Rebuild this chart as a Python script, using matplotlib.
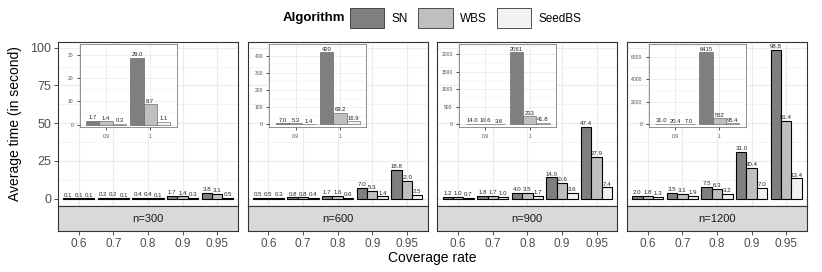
import numpy as np
import matplotlib
matplotlib.use('Agg')
import matplotlib.pyplot as plt
from matplotlib.patches import Patch

plt.rcParams['font.family'] = ['Liberation Sans', 'DejaVu Sans']

# data
coverage = ['0.6', '0.7', '0.8', '0.9', '0.95']
sizes = ['n=300', 'n=600', 'n=900', 'n=1200']
algorithms = ['SN', 'WBS', 'SeedBS']
colors = ['#7f7f7f', '#bfbfbf', '#f2f2f2']

sn_time = [[0.1, 0.2, 0.4, 1.7, 3.8],
           [0.5, 0.8, 1.7, 7.0, 18.8],
           [1.2, 1.8, 4.0, 14.0, 47.4],
           [2.0, 3.5, 7.5, 31.0, 98.8]]
wbs_time = [[0.1, 0.2, 0.4, 1.4, 3.1],
            [0.5, 0.8, 1.6, 5.3, 12.0],
            [1.0, 1.7, 3.5, 10.6, 27.9],
            [1.8, 3.1, 6.3, 20.4, 51.4]]
seedbs_time = [[0.1, 0.1, 0.1, 0.3, 0.5],
               [0.3, 0.4, 0.6, 1.4, 2.5],
               [0.7, 1.0, 1.7, 3.6, 7.4],
               [1.3, 1.9, 3.2, 7.0, 13.4]]

inset_coverage = ['0.9', '1']
inset_sn = [[1.7, 29.0], [7.0, 420], [14.0, 2061], [31.0, 6415]]
inset_wbs = [[1.4, 8.7], [5.3, 69.2], [10.6, 233], [20.4, 552]]
inset_seedbs = [[0.3, 1.1], [1.4, 16.9], [3.6, 41.8], [7.0, 95.4]]
inset_ticks = [[0, 10, 20, 30], [0, 100, 200, 300, 400],
               [0, 500, 1000, 1500, 2000], [0, 2000, 4000, 6000]]


def fmt(v):
    return '%d' % round(v) if v >= 100 else '%.1f' % v


W, H = 822, 272
fig = plt.figure(figsize=(W / 100, H / 100), dpi=100)

panel_w, gap = 180, 9.67
offsets = [-0.3, 0.0, 0.3]

for i, size in enumerate(sizes):
    left = 58 + i * (panel_w + gap)
    ax = fig.add_axes([left / W, (H - 206) / H, panel_w / W, 164 / H])
    strip = fig.add_axes([left / W, (H - 231) / H, panel_w / W, 25 / H])

    x = np.arange(1, len(coverage) + 1)
    series = [sn_time[i], wbs_time[i], seedbs_time[i]]
    for k, vals in enumerate(series):
        ax.bar(x + offsets[k], vals, 0.3, color=colors[k],
               edgecolor='black', linewidth=0.8, zorder=2)
        for xx, v in zip(x + offsets[k], vals):
            ax.annotate(fmt(v), (xx, v), xytext=(0, 0.6), textcoords='offset points',
                        ha='center', va='bottom', fontsize=4.4, color='#222222')

    ax.set_xlim(0.4, 5.6)
    ax.set_ylim(-4.9, 103.8)
    ax.set_xticks(x)
    ax.set_yticks([0, 25, 50, 75, 100])
    ax.set_yticks([12.5, 37.5, 62.5, 87.5], minor=True)
    ax.grid(which='major', color='#ebebeb', linewidth=0.8)
    ax.grid(which='minor', axis='y', color='#ebebeb', linewidth=0.4)
    ax.set_axisbelow(True)
    ax.tick_params(axis='x', bottom=False, labelbottom=False)
    ax.tick_params(axis='y', which='minor', left=False)
    if i == 0:
        ax.tick_params(axis='y', labelsize=9, colors='#333333', labelcolor='#4d4d4d',
                       length=3, width=0.6, pad=2)
    else:
        ax.tick_params(axis='y', left=False, labelleft=False)
    for sp in ax.spines.values():
        sp.set_color('#333333')
        sp.set_linewidth(0.8)

    # strip below panel, carrying the x axis
    strip.set_facecolor('#d9d9d9')
    strip.set_xlim(0.4, 5.6)
    strip.set_ylim(0, 1)
    strip.set_yticks([])
    strip.set_xticks(x)
    strip.set_xticklabels(coverage)
    strip.tick_params(axis='x', labelsize=8.5, colors='#333333', labelcolor='#4d4d4d',
                      length=3, width=0.6, pad=2)
    strip.text(3, 0.5, size, ha='center', va='center', fontsize=8, color='#1a1a1a')
    for sp in strip.spines.values():
        sp.set_color('#333333')
        sp.set_linewidth(0.8)

    # inset zooming on 0.9 and 1
    ins = ax.inset_axes([0.12, 0.48, 0.54, 0.51])
    xi = np.arange(1, len(inset_coverage) + 1)
    iseries = [inset_sn[i], inset_wbs[i], inset_seedbs[i]]
    top = max(inset_sn[i])
    for k, vals in enumerate(iseries):
        ins.bar(xi + offsets[k], vals, 0.3, color=colors[k],
                edgecolor='#555555', linewidth=0.4, zorder=2)
        for xx, v in zip(xi + offsets[k], vals):
            ins.annotate(fmt(v), (xx, v), xytext=(0, 0.4), textcoords='offset points',
                         ha='center', va='bottom', fontsize=4.2, color='#222222')
    ins.set_xlim(0.4, 2.6)
    ins.set_ylim(-0.04 * top, 1.12 * top)
    ins.set_xticks(xi)
    ins.set_xticklabels(inset_coverage)
    yt = inset_ticks[i]
    ins.set_yticks(yt)
    ins.set_yticks([(a + b) / 2 for a, b in zip(yt[:-1], yt[1:])] + [yt[-1] + (yt[1] - yt[0]) / 2], minor=True)
    ins.grid(which='major', color='#ebebeb', linewidth=0.6)
    ins.grid(which='minor', axis='y', color='#ebebeb', linewidth=0.3)
    ins.set_axisbelow(True)
    ins.tick_params(which='major', labelsize=3.6, colors='#333333', labelcolor='#4d4d4d',
                    length=2, width=0.6, pad=2.5)
    ins.tick_params(axis='y', which='minor', left=False)
    for sp in ins.spines.values():
        sp.set_color('#7f7f7f')
        sp.set_linewidth(0.6)

# shared axis titles
fig.text(15 / W, 1 - 124 / H, 'Average time (in second)', rotation=90,
         ha='center', va='center', fontsize=10)
fig.text(432 / W, 1 - 258 / H, 'Coverage rate', ha='center', va='center', fontsize=10)

# legend on top
fig.text(283 / W, 1 - 18 / H, 'Algorithm', ha='left', va='center',
         fontsize=9.5, fontweight='bold')
handles = [Patch(facecolor=c, edgecolor='#333333', linewidth=0.6) for c in colors]
fig.legend(handles, algorithms, ncol=3, loc='center left',
           bbox_to_anchor=(350 / W, 1 - 18 / H), frameon=False, fontsize=8.5,
           handlelength=2.9, handleheight=2.2, handletextpad=0.6,
           columnspacing=0.9, borderaxespad=0, borderpad=0)

fig.savefig('out.png', dpi=100)
